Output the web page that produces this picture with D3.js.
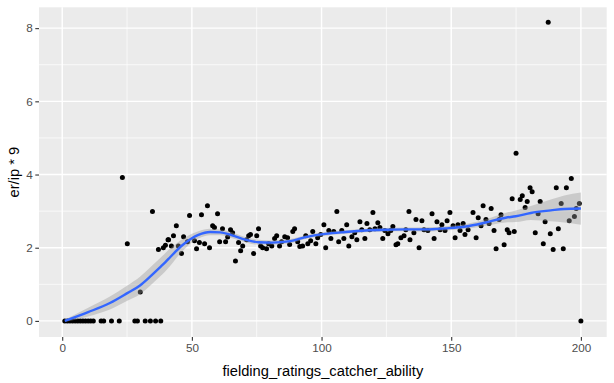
<!DOCTYPE html>
<html>
<head>
<meta charset="utf-8">
<script src="https://d3js.org/d3.v7.min.js"></script>
<style>
  body { margin: 0; background: #fff; }
  text { font-family: "Liberation Sans", Arial, sans-serif; }
</style>
</head>
<body>
<div id="chart"></div>
<script>
// points: x = catcher ability, y = er/ip * 9
const zeroX = [1, 2, 3, 4, 5, 6, 7, 8, 9, 10, 11, 12, 15, 16, 19, 22, 28, 29, 32, 34, 36, 38, 200];
const ptX = [23.2, 34.8, 25.1, 37.1, 39.0, 39.8, 40.8, 30.1, 56.0, 49.1, 53.7, 59.9, 44.0, 58.0, 58.7, 41.0,
  42.9, 42.1, 46.8, 44.8, 46.0, 48.3, 51.0, 52.9, 54.9, 51.8, 56.8, 61.8, 64.9, 65.7, 60.7, 63.0, 63.8, 68.0,
  69.6, 68.8, 66.8, 71.9, 72.6, 71.1, 75.7, 75.0, 73.8, 76.5, 77.3, 78.8, 79.6, 80.8, 81.9, 82.7, 83.8, 84.6,
  85.8, 86.9, 87.7, 88.9, 89.6, 90.8, 91.6, 92.7, 93.9, 94.7, 95.8, 96.6, 97.8, 98.5, 99.7, 100.9, 101.6, 102.8,
  103.6, 104.7, 105.9, 106.6, 107.8, 108.6, 109.7, 110.5, 111.7, 112.8, 113.6, 114.8, 115.5, 116.7, 117.5, 118.6,
  119.8, 120.6, 121.7, 122.5, 123.6, 124.4, 125.6, 126.7, 127.5, 128.7, 129.4, 130.6, 131.8, 132.5, 133.7, 134.1,
  135.6, 136.4, 138.7, 137.6, 139.5, 141.0, 142.6, 143.4, 144.5, 145.7, 146.4, 147.6, 148.4, 149.5, 150.7, 151.5,
  152.6, 153.4, 154.6, 155.3, 156.5, 158.4, 159.6, 160.4, 161.5, 162.3, 163.4, 164.6, 165.4, 166.5, 167.3, 168.5,
  169.2, 170.4, 171.6, 172.3, 173.5, 174.3, 175.0, 177.4, 176.6, 180.4, 181.2, 179.3, 178.5, 183.5, 184.3, 182.4,
  186.2, 185.5, 188.2, 189.3, 190.5, 191.3, 192.4, 193.2, 194.4, 196.3, 195.5, 197.5, 198.2, 199.4, 187.4];
const ptY = [3.92, 2.99, 2.11, 1.95, 2.00, 2.07, 2.22, 0.79, 3.15, 2.88, 2.90, 2.93, 2.60, 2.60, 2.55, 2.22,
  2.33, 2.05, 2.30, 2.05, 1.84, 2.16, 2.19, 2.14, 2.11, 1.97, 2.00, 2.52, 2.49, 2.41, 2.16, 2.16, 2.29, 2.14,
  2.05, 1.92, 1.64, 2.33, 2.36, 2.22, 2.52, 2.33, 1.84, 2.05, 2.00, 1.97, 2.11, 2.05, 2.25, 2.33, 2.05, 2.16,
  2.30, 2.27, 2.09, 2.44, 2.52, 2.16, 2.03, 2.05, 2.33, 2.11, 2.19, 2.44, 2.11, 2.27, 2.36, 2.63, 2.00, 2.47,
  2.25, 2.44, 2.99, 2.16, 2.47, 2.25, 2.63, 2.05, 2.30, 2.41, 2.22, 2.71, 2.49, 2.25, 2.66, 2.49,
  2.96, 2.52, 2.68, 2.55, 2.25, 2.47, 2.38, 2.47, 2.58, 2.08, 2.11, 2.27, 2.33, 2.49, 2.99, 2.22,
  2.41, 2.77, 2.74, 2.00, 2.49, 2.47, 2.93, 2.25, 2.71, 2.49, 2.63, 2.47, 2.74, 2.96, 2.60, 2.27,
  2.63, 2.47, 2.66, 2.36, 2.49, 2.96, 2.27, 2.82, 2.60, 3.15, 2.77, 2.66, 3.07, 2.47, 1.97, 2.77,
  2.90, 2.08, 2.49, 2.41, 3.34, 2.44, 4.58, 3.42, 3.32, 3.64, 3.53, 3.26, 3.10, 2.93, 3.26, 2.41,
  2.71, 2.11, 2.38, 1.95, 3.64, 2.52, 3.21, 1.97, 3.64, 3.89, 2.74, 2.85, 3.07, 3.21, 8.16];

// smoothed fit and its half-width
const fitX = [1, 10, 18.4, 25.1, 30, 33.9, 37.8, 39.7, 41.6, 43.5, 45.5, 47.4, 50, 52.5, 57, 60.9, 65.5, 70.6, 75.7,
  80.9, 88, 93.8, 101.5, 109.2, 116.9, 124.7, 132.4, 140.1, 147.8, 155.6, 163.3, 171, 174.9, 180.7, 188.4, 193.6, 200];
const fitY = [0, 0.24, 0.49, 0.76, 0.97, 1.21, 1.47, 1.60, 1.74, 1.88, 2.02, 2.13, 2.26, 2.35, 2.43, 2.42, 2.34, 2.22,
  2.15, 2.14, 2.18, 2.29, 2.38, 2.43, 2.47, 2.49, 2.50, 2.50, 2.53, 2.58, 2.69, 2.82, 2.86, 2.95, 3.02, 3.06, 3.07];
const fitSe = [0.03, 0.12, 0.18, 0.21, 0.24, 0.25, 0.25, 0.25, 0.24, 0.21, 0.18, 0.15, 0.12, 0.1, 0.09, 0.08, 0.08,
  0.07, 0.07, 0.06, 0.06, 0.05, 0.05, 0.05, 0.05, 0.05, 0.05, 0.06, 0.06, 0.07, 0.09, 0.13, 0.16, 0.19, 0.30, 0.37, 0.44];

const xTicks = [0, 50, 100, 150, 200];
const yTicks = [0, 2, 4, 6, 8];

const W = 614, H = 383;
const margin = {top: 7.3, right: 7.3, bottom: 46, left: 39};
const pw = W - margin.left - margin.right, ph = H - margin.top - margin.bottom;

const points = zeroX.map(x => ({x, y: 0})).concat(ptX.map((x, i) => ({x, y: ptY[i]})));
const fit = fitX.map((x, i) => ({x, y: fitY[i], lo: fitY[i] - fitSe[i], hi: fitY[i] + fitSe[i]}));

function expand(ext) {
  const d = (ext[1] - ext[0]) * 0.05;
  return [ext[0] - d, ext[1] + d];
}
const x = d3.scaleLinear().domain(expand(d3.extent(points, d => d.x))).range([0, pw]);
const y = d3.scaleLinear().domain(expand([d3.min(fit, d => d.lo), d3.max(points, d => d.y)])).range([ph, 0]);

const svg = d3.select("#chart").append("svg").attr("width", W).attr("height", H);
const g = svg.append("g").attr("transform", `translate(${margin.left},${margin.top})`);

g.append("rect").attr("width", pw).attr("height", ph).attr("fill", "#EBEBEB");

// minor grid
const xMinor = xTicks.slice(0, -1).map((t, i) => (t + xTicks[i + 1]) / 2);
const yMinor = yTicks.slice(0, -1).map((t, i) => (t + yTicks[i + 1]) / 2);
g.selectAll(".xminor").data(xMinor).join("line")
  .attr("x1", d => x(d)).attr("x2", d => x(d)).attr("y1", 0).attr("y2", ph)
  .attr("stroke", "#fff").attr("stroke-width", 0.7);
g.selectAll(".yminor").data(yMinor).join("line")
  .attr("y1", d => y(d)).attr("y2", d => y(d)).attr("x1", 0).attr("x2", pw)
  .attr("stroke", "#fff").attr("stroke-width", 0.7);
// major grid
g.selectAll(".xmajor").data(xTicks).join("line")
  .attr("x1", d => x(d)).attr("x2", d => x(d)).attr("y1", 0).attr("y2", ph)
  .attr("stroke", "#fff").attr("stroke-width", 1.4);
g.selectAll(".ymajor").data(yTicks).join("line")
  .attr("y1", d => y(d)).attr("y2", d => y(d)).attr("x1", 0).attr("x2", pw)
  .attr("stroke", "#fff").attr("stroke-width", 1.4);

// points
g.append("g").selectAll("circle").data(points).join("circle")
  .attr("cx", d => x(d.x)).attr("cy", d => y(d.y)).attr("r", 2.5).attr("fill", "#000");

// confidence band + smooth line
g.append("path").datum(fit)
  .attr("d", d3.area().x(d => x(d.x)).y0(d => y(d.lo)).y1(d => y(d.hi)).curve(d3.curveMonotoneX))
  .attr("fill", "#999999").attr("fill-opacity", 0.4);
g.append("path").datum(fit)
  .attr("d", d3.line().x(d => x(d.x)).y(d => y(d.y)).curve(d3.curveMonotoneX))
  .attr("fill", "none").attr("stroke", "#3366FF").attr("stroke-width", 2.4);

// axes
const xAxis = g.append("g").attr("transform", `translate(0,${ph})`)
  .call(d3.axisBottom(x).tickValues(xTicks).tickSize(3.7).tickPadding(2.5));
const yAxis = g.append("g")
  .call(d3.axisLeft(y).tickValues(yTicks).tickSize(3.7).tickPadding(2.5));
[xAxis, yAxis].forEach(a => {
  a.select(".domain").remove();
  a.selectAll(".tick line").attr("stroke", "#333333").attr("stroke-width", 1.1);
  a.selectAll(".tick text").attr("fill", "#4D4D4D").style("font-size", "11.7px")
    .style("font-family", "'Liberation Sans', Arial, sans-serif");
});

svg.append("text")
  .attr("x", margin.left + pw / 2).attr("y", H - 7.5)
  .attr("text-anchor", "middle").style("font-size", "14.7px").attr("fill", "#000")
  .text("fielding_ratings_catcher_ability");
svg.append("text")
  .attr("transform", `translate(19,${margin.top + ph / 2}) rotate(-90)`)
  .attr("text-anchor", "middle").style("font-size", "14.7px").attr("fill", "#000")
  .text("er/ip * 9");
</script>
</body>
</html>
